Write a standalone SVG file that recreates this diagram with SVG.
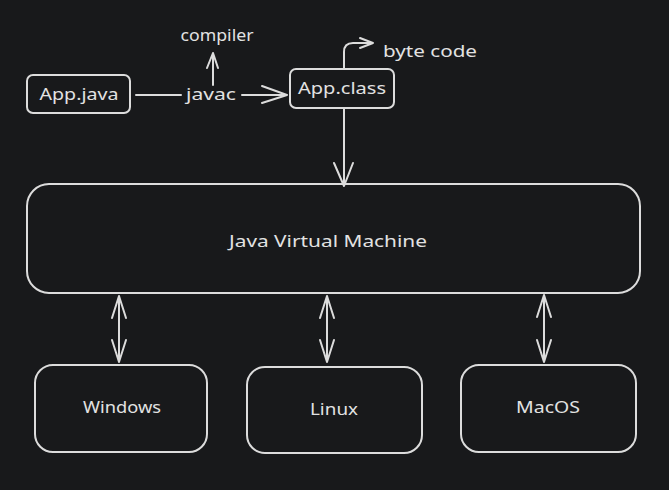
<svg xmlns="http://www.w3.org/2000/svg" width="669" height="490" viewBox="0 0 669 490">
<style>
.bg{fill:#18191b}
.box{fill:none;stroke:#dcdcdc;stroke-width:2}
.ln{fill:none;stroke:#dcdcdc;stroke-width:2;stroke-linecap:round;stroke-linejoin:round}
text{font-family:"Noto Sans","Liberation Sans",sans-serif;font-size:16px;fill:#e2e2e2;text-anchor:middle}
</style>
<rect class="bg" x="0" y="0" width="669" height="490"/>
<g id="connectors">
  <path class="ln" d="M136 95 L181 95"/>
  <path class="ln" d="M242 95 L287 95 M262 86 L287 95 L262 103"/>
  <path class="ln" d="M213 85 L213 53 M207 68 L213 53 L218 68"/>
  <path class="ln" d="M344 68 L344 52 Q344 43 353 43 L373 43 M360 38 L373 43 L360 48"/>
  <path class="ln" d="M344 109 L344 186 M334 163 L344 186 L353 163"/>
  <path class="ln" d="M119 296 L119 362 M112 318 L119 296 L126 318 M112 340 L119 362 L126 340"/>
  <path class="ln" d="M327 296 L327 362 M320 318 L327 296 L334 318 M320 340 L327 362 L334 340"/>
  <path class="ln" d="M544 295 L544 362 M537 317 L544 295 L551 317 M537 340 L544 362 L551 340"/>
</g>
<g id="compiler-label"><text x="217" y="41" textLength="73" lengthAdjust="spacingAndGlyphs">compiler</text></g>
<g id="javac-label"><text x="211" y="100" textLength="50" lengthAdjust="spacingAndGlyphs">javac</text></g>
<g id="bytecode-label"><text x="430" y="57" textLength="94" lengthAdjust="spacingAndGlyphs">byte code</text></g>
<g id="app-java">
  <rect class="box" x="27" y="75" width="103" height="38" rx="6"/>
  <text x="79" y="100" textLength="79" lengthAdjust="spacingAndGlyphs">App.java</text>
</g>
<g id="app-class">
  <rect class="box" x="290" y="69" width="104" height="39" rx="6"/>
  <text x="342" y="94" textLength="88" lengthAdjust="spacingAndGlyphs">App.class</text>
</g>
<g id="jvm">
  <rect class="box" x="27" y="184" width="613" height="109" rx="22"/>
  <text x="328" y="247" textLength="198" lengthAdjust="spacingAndGlyphs">Java Virtual Machine</text>
</g>
<g id="windows">
  <rect class="box" x="35" y="365" width="172" height="87" rx="18"/>
  <text x="122" y="413" textLength="78" lengthAdjust="spacingAndGlyphs">Windows</text>
</g>
<g id="linux">
  <rect class="box" x="247" y="367" width="175" height="86" rx="18"/>
  <text x="334" y="415" textLength="48" lengthAdjust="spacingAndGlyphs">Linux</text>
</g>
<g id="macos">
  <rect class="box" x="461" y="365" width="175" height="87" rx="18"/>
  <text x="548" y="413" textLength="64" lengthAdjust="spacingAndGlyphs">MacOS</text>
</g>
</svg>
